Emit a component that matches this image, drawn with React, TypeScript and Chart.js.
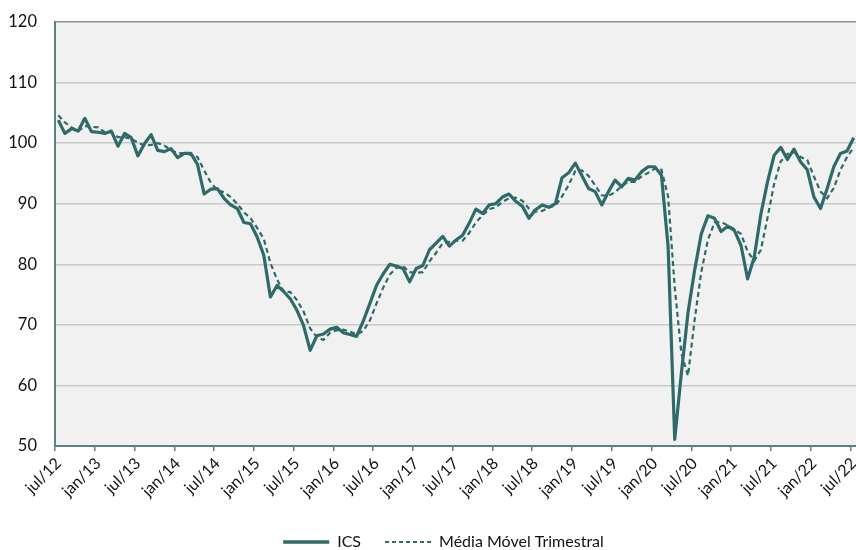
import { useEffect, useRef } from "react";
import { Chart, registerables } from "chart.js";

Chart.register(...registerables);

// ---- DATA ----
const MONTHS = ["jan", "fev", "mar", "abr", "mai", "jun", "jul", "ago", "set", "out", "nov", "dez"];
const START_YEAR = 2012;
const START_MONTH = 6; // jul
const N_MONTHS = 121; // jul/12 .. jul/22

const categories: string[] = Array.from({ length: N_MONTHS }, (_, i) => {
  const m = START_MONTH + i;
  const yy = (START_YEAR + Math.floor(m / 12)) % 100;
  return `${MONTHS[m % 12]}/${String(yy).padStart(2, "0")}`;
});

const icsValues: number[] = [
  103.8, 101.6, 102.4, 102.0, 104.1, 101.9, 101.8, 101.6, 102.0, 99.5, 101.6, 100.9,
  97.9, 99.9, 101.4, 98.8, 98.6, 99.1, 97.6, 98.3, 98.3, 96.5, 91.6, 92.4,
  92.5, 90.9, 89.8, 89.2, 86.9, 86.7, 84.5, 81.5, 74.6, 76.5, 75.5, 74.3,
  72.4, 69.9, 65.8, 68.2, 68.5, 69.3, 69.6, 68.7, 68.4, 68.1, 70.6, 73.5,
  76.5, 78.4, 80.0, 79.7, 79.3, 77.1, 79.3, 79.8, 82.4, 83.5, 84.6, 83.0,
  84.0, 84.8, 86.8, 89.1, 88.4, 89.8, 90.0, 91.1, 91.6, 90.4, 89.6, 87.6,
  89.0, 89.8, 89.4, 90.0, 94.3, 95.1, 96.7, 94.6, 92.5, 92.0, 89.8, 92.0,
  93.9, 92.8, 94.2, 93.9, 95.3, 96.1, 96.1, 94.7, 82.9, 51.1, 62.0, 72.0,
  79.0, 85.0, 88.0, 87.6, 85.4, 86.3, 85.6, 83.1, 77.6, 81.2, 88.3, 93.6,
  98.0, 99.3, 97.3, 99.0, 96.9, 95.6, 91.1, 89.2, 92.5, 96.1, 98.3, 98.7,
  100.9,
];

const mediaMovelValues: number[] = [
  104.6, 103.4, 102.6, 102.0, 102.8, 102.7, 102.6, 101.8, 101.8, 101.0, 101.0, 100.7,
  100.1, 99.6, 99.7, 100.0, 99.6, 98.8, 98.4, 98.3, 98.1, 97.7, 95.5, 93.5,
  92.2, 91.9, 91.1, 90.0, 88.6, 87.6, 86.0, 84.2, 80.2, 77.5, 75.5, 75.4,
  74.1, 72.2, 69.4, 68.0, 67.5, 68.7, 69.1, 69.2, 68.9, 68.4, 69.0, 70.7,
  73.5, 76.1, 78.3, 79.4, 79.7, 78.7, 78.6, 78.7, 80.5, 81.9, 83.5, 83.7,
  83.9, 83.9, 85.2, 86.9, 88.1, 89.1, 89.4, 90.3, 90.9, 91.0, 90.5, 89.2,
  88.7, 88.8, 89.4, 89.7, 91.2, 93.1, 95.4, 95.5, 94.6, 93.0, 91.4, 91.3,
  91.9, 92.9, 93.6, 93.6, 94.5, 95.1, 95.8, 95.6, 91.2, 76.2, 65.3, 61.6,
  70.8, 78.7, 84.0, 86.9, 87.0, 86.4, 85.8, 85.0, 82.1, 80.6, 82.4, 87.7,
  93.3, 97.0, 98.2, 98.5, 97.7, 97.2, 94.5, 92.0, 90.9, 92.6, 95.6, 97.7,
  99.3,
];

const Y_MIN = 50;
const Y_MAX = 120;
const Y_STEP = 10;
const LABEL_EVERY = 6;

const SERIES_NAMES = ["ICS", "Média Móvel Trimestral"];

// ---- STYLE ----
const LINE_COLOR = "#2e6a68";
const AXIS_COLOR = "#5a8482";
const GRID_COLOR = "#c9c9c9";
const TOP_COLOR = "#8e8e8e";
const PLOT_BG = "#f1f1f1";
const TEXT_COLOR = "#111111";
const FONT = "Lato";

const bgPlugin = {
  id: "plotBg",
  beforeDraw(chart: any) {
    const { ctx, chartArea, width, height } = chart;
    ctx.save();
    ctx.fillStyle = "#ffffff";
    ctx.fillRect(0, 0, width, height);
    ctx.fillStyle = PLOT_BG;
    ctx.fillRect(chartArea.left, chartArea.top, chartArea.right - chartArea.left, chartArea.bottom - chartArea.top);
    ctx.restore();
  },
};

const legendShift = {
  id: "legendShift",
  afterLayout(chart: any) {
    const lg = chart.legend;
    if (!lg) return;
    lg.left += 15;
    lg.right += 15;
    lg.top += 10;
    lg.bottom += 10;
  },
};

export default function App() {
  const ref = useRef<HTMLCanvasElement | null>(null);

  useEffect(() => {
    document.body.style.margin = "0";
    const canvas = ref.current;
    if (!canvas) return;
    const chart = new Chart(canvas, {
      type: "line",
      data: {
        labels: categories,
        datasets: [
          {
            label: SERIES_NAMES[0],
            data: icsValues,
            borderColor: LINE_COLOR,
            backgroundColor: LINE_COLOR,
            borderWidth: 3.2,
            pointRadius: 0,
            tension: 0,
            borderJoinStyle: "round",
            fill: false,
          },
          {
            label: SERIES_NAMES[1],
            data: mediaMovelValues,
            borderColor: LINE_COLOR,
            backgroundColor: LINE_COLOR,
            borderWidth: 2.2,
            borderDash: [5, 3.5],
            pointRadius: 0,
            tension: 0,
            fill: false,
          },
        ],
      },
      options: {
        responsive: false,
        animation: false,
        layout: { padding: { left: 0, right: 3, top: 22, bottom: 0 } },
        plugins: {
          tooltip: { enabled: false },
          legend: {
            position: "bottom",
            fullSize: true,
            labels: {
              usePointStyle: true,
              pointStyleWidth: 46,
              padding: 24,
              color: TEXT_COLOR,
              font: { family: FONT, size: 16 },
              generateLabels: () => [
                {
                  text: SERIES_NAMES[0],
                  strokeStyle: LINE_COLOR,
                  fillStyle: LINE_COLOR,
                  lineWidth: 3.5,
                  lineDash: [],
                  pointStyle: "line",
                  fontColor: TEXT_COLOR,
                  hidden: false,
                  datasetIndex: 0,
                },
                {
                  text: SERIES_NAMES[1],
                  strokeStyle: LINE_COLOR,
                  fillStyle: LINE_COLOR,
                  lineWidth: 2,
                  lineDash: [4, 3],
                  pointStyle: "line",
                  fontColor: TEXT_COLOR,
                  hidden: false,
                  datasetIndex: 1,
                },
              ],
            },
          },
        },
        scales: {
          x: {
            type: "category",
            offset: true,
            grid: {
              offset: true,
              drawOnChartArea: false,
              drawTicks: true,
              tickLength: 5,
              tickWidth: 1.5,
              lineWidth: 1.5,
              color: (c: any) => (c.index % LABEL_EVERY === 0 ? AXIS_COLOR : "rgba(0,0,0,0)"),
              tickColor: (c: any) => (c.index % LABEL_EVERY === 0 ? AXIS_COLOR : "rgba(0,0,0,0)"),
            },
            border: { color: AXIS_COLOR, width: 2 },
            ticks: {
              autoSkip: false,
              minRotation: 45,
              maxRotation: 45,
              padding: 3,
              color: TEXT_COLOR,
              font: { family: FONT, size: 16 },
              callback: (_v: any, i: number) => (i % LABEL_EVERY === 0 ? categories[i] : ""),
            },
            afterFit: (s: any) => {
              const lh = s.chart.legend && s.chart.legend.height ? s.chart.legend.height : 50;
              s.height = 550 - 446 - lh;
              s.paddingLeft = 0;
              s.paddingRight = 0;
            },
          },
          y: {
            min: Y_MIN,
            max: Y_MAX,
            ticks: {
              stepSize: Y_STEP,
              padding: 18,
              color: TEXT_COLOR,
              font: { family: FONT, size: 16.5 },
            },
            grid: {
              drawTicks: false,
              lineWidth: 1.5,
              color: (c: any) =>
                c.tick && c.tick.value === Y_MAX
                  ? TOP_COLOR
                  : c.tick && c.tick.value === Y_MIN
                  ? "rgba(0,0,0,0)"
                  : GRID_COLOR,
            },
            border: { color: AXIS_COLOR, width: 2 },
            afterFit: (s: any) => {
              s.width = 55;
              s.paddingTop = 0;
              s.paddingBottom = 0;
            },
          },
        },
      },
      plugins: [bgPlugin, legendShift],
    } as any);
    return () => chart.destroy();
  }, []);

  return (
    <div style={{ position: "fixed", left: 0, top: 0, width: 856, height: 550, overflow: "hidden", background: "#fff" }}>
      <canvas ref={ref} width={860} height={550} style={{ display: "block", width: 860, height: 550 }} />
    </div>
  );
}
